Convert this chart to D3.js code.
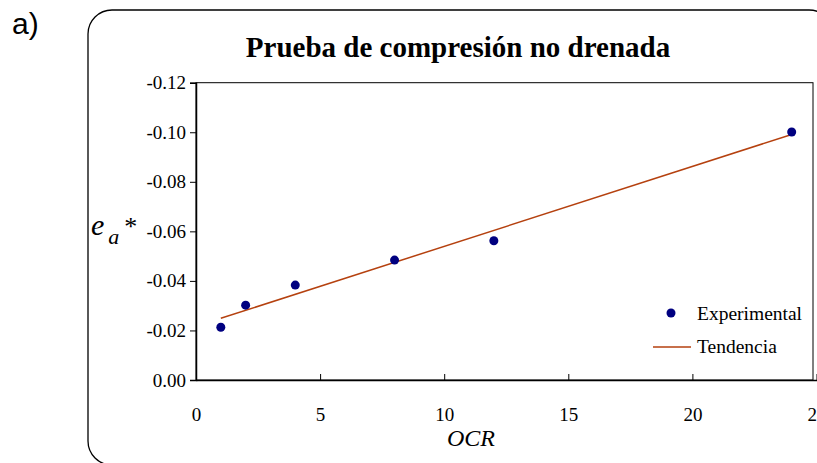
<!DOCTYPE html>
<meta charset="utf-8">
<script src="https://d3js.org/d3.v7.min.js"></script>
<style>
body { margin: 0; background: #fff; }
text { font-family: "Liberation Serif", "Times New Roman", serif; }
</style>
<div id="chart"></div>
<script>
// data
var ocr = [1, 2, 4, 8, 12, 24];
var ea = [-0.0213, -0.0302, -0.0383, -0.0484, -0.0562, -0.1001];
// trend line ends
var trendX = [1, 24];
var trendY = [-0.0249, -0.0991];
var xTicks = [0, 5, 10, 15, 20, 25];
var yTicks = [0, -0.02, -0.04, -0.06, -0.08, -0.10, -0.12];

var W = 817, H = 463;
var margin = {top: 82.7, right: 4, bottom: 83, left: 196};
var width = W - margin.left - margin.right,
    height = H - margin.top - margin.bottom;

var svg = d3.select("#chart").append("svg")
  .attr("width", W).attr("height", H);

// "a)" label
svg.append("text")
  .attr("x", 12).attr("y", 34)
  .style("font-family", "'Liberation Sans', Arial, sans-serif")
  .style("font-size", "30px")
  .text("a)");

// rounded outer frame (goes past the right and bottom edges)
svg.append("rect")
  .attr("x", 88).attr("y", 10)
  .attr("width", 745).attr("height", 455)
  .attr("rx", 24).attr("ry", 24)
  .style("fill", "none").style("stroke", "#000").style("stroke-width", 1.3);

// title
svg.append("text")
  .attr("x", 458).attr("y", 57)
  .attr("text-anchor", "middle")
  .style("font-size", "29px").style("font-weight", "bold")
  .text("Prueba de compresión no drenada");

var g = svg.append("g")
  .attr("transform", "translate(" + margin.left + "," + margin.top + ")");

var x = d3.scaleLinear().domain([0, 25]).range([0, width + 3.5]);
var y = d3.scaleLinear().domain([0, -0.12]).range([height, 0]);

// plot box
g.append("rect")
  .attr("width", width).attr("height", height)
  .style("fill", "none").style("stroke", "#000").style("stroke-width", 1);

var fmt = function(d) { return d3.format(".2f")(d).replace("\u2212", "-"); };

// y axis
var yAxis = g.append("g")
  .call(d3.axisLeft(y).tickValues(yTicks).tickFormat(fmt).tickSize(6).tickPadding(4));
yAxis.select(".domain").style("stroke-width", 1.5);
yAxis.selectAll("text").style("font-family", "'Liberation Serif', serif").style("font-size", "19px").attr("fill", "#000");

// x axis, ticks pointing inward
var xAxis = g.append("g")
  .attr("transform", "translate(0," + height + ")")
  .call(d3.axisBottom(x).tickValues(xTicks).tickSizeInner(-6).tickSizeOuter(0).tickPadding(28));
xAxis.select(".domain").style("stroke-width", 1.5);
xAxis.selectAll("text").style("font-family", "'Liberation Serif', serif").style("font-size", "19px").attr("fill", "#000");

// trend line
g.append("path")
  .datum(d3.zip(trendX, trendY))
  .attr("d", d3.line().x(function(d) { return x(d[0]); }).y(function(d) { return y(d[1]); }))
  .style("fill", "none").style("stroke", "#b5410f").style("stroke-width", 1.5);

// points
g.selectAll(".pt")
  .data(d3.zip(ocr, ea))
  .enter().append("circle")
  .attr("class", "pt")
  .attr("cx", function(d) { return x(d[0]); })
  .attr("cy", function(d) { return y(d[1]); })
  .attr("r", 4.5)
  .style("fill", "#000080");

// axis titles
svg.append("text")
  .attr("x", 471).attr("y", 446)
  .attr("text-anchor", "middle")
  .style("font-size", "24px").style("font-style", "italic")
  .text("OCR");

var yl = svg.append("text").attr("x", 91).attr("y", 235).style("font-style", "italic");
yl.append("tspan").style("font-size", "30px").text("e");
yl.append("tspan").attr("dx", 4).attr("dy", 9).style("font-size", "22px").text("a");
yl.append("tspan").attr("dx", 5).attr("dy", -9).style("font-size", "26px").style("font-style", "normal").text("*");

// legend
var leg = svg.append("g");
leg.append("circle").attr("cx", 671).attr("cy", 313).attr("r", 4.5).style("fill", "#000080");
leg.append("text").attr("x", 697).attr("y", 320).style("font-size", "19.5px").text("Experimental");
leg.append("line").attr("x1", 653).attr("x2", 691).attr("y1", 347).attr("y2", 347)
  .style("stroke", "#b5410f").style("stroke-width", 1.5);
leg.append("text").attr("x", 697).attr("y", 353).style("font-size", "19.5px").text("Tendencia");
</script>
